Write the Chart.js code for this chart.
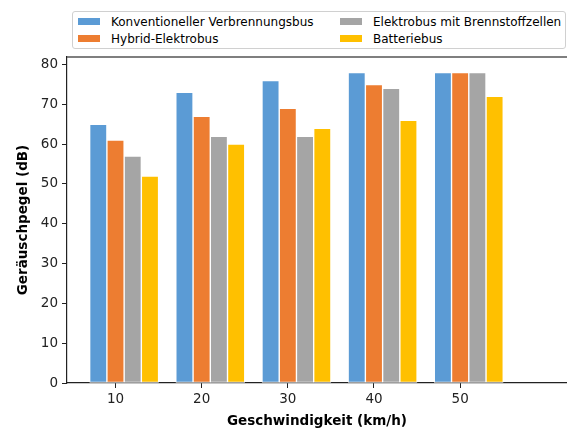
<!DOCTYPE html>
<html>
<head>
<meta charset="utf-8">
<script src="https://cdn.jsdelivr.net/npm/chart.js@4/dist/chart.umd.min.js"></script>
<style>
  body { margin: 0; background: #fff; }
  #wrap { position: relative; width: 567px; height: 430px; overflow: hidden; }
  #legend {
    position: absolute; left: 72px; top: 11px; width: 492px; height: 36px;
    border: 1px solid #d0d0d0; border-radius: 3px; background: #fff;
    font: 12px "DejaVu Sans", sans-serif; color: #000;
  }
  .item { position: absolute; height: 14px; line-height: 14px; white-space: nowrap; }
  .sw { position: absolute; left: 0; top: 3px; width: 22px; height: 7px; }
  .lbl { position: absolute; left: 33px; top: 0; }
</style>
</head>
<body>
<div id="wrap">
  <canvas id="c" width="567" height="430"></canvas>
  <div id="legend"></div>
</div>
<script>
const speeds = [10, 20, 30, 40, 50];
const seriesNames = ['Konventioneller Verbrennungsbus', 'Hybrid-Elektrobus', 'Elektrobus mit Brennstoffzellen', 'Batteriebus'];
const konventionell = [65, 73, 76, 78, 78];
const hybrid = [61, 67, 69, 75, 78];
const brennstoffzelle = [57, 62, 62, 74, 78];
const batterie = [52, 60, 64, 66, 72];
const yTicks = [0, 10, 20, 30, 40, 50, 60, 70, 80];

const colors = ['#5B9BD5', '#ED7D31', '#A5A5A5', '#FFC000'];
const allValues = [konventionell, hybrid, brennstoffzelle, batterie];
const offsets = [-2, 0, 2, 4];

const datasets = allValues.map((vals, i) => ({
  label: seriesNames[i],
  data: speeds.map((s, j) => ({ x: s + offsets[i], y: vals[j] })),
  backgroundColor: colors[i],
  borderColor: '#ffffff',
  borderWidth: 1,
  borderSkipped: false,
  barThickness: 17.2,
  grouped: false
}));

const frame = {
  id: 'frame',
  afterDraw(chart) {
    const { ctx, chartArea: a } = chart;
    ctx.save();
    ctx.strokeStyle = '#555';
    ctx.lineWidth = 1.5;
    ctx.beginPath();
    ctx.moveTo(a.left, a.top);
    ctx.lineTo(a.right, a.top);
    ctx.stroke();
    ctx.restore();
  }
};

const tickFont = { family: 'DejaVu Sans', size: 13.5 };
const titleFont = { family: 'DejaVu Sans', size: 13.5, weight: 'bold' };

new Chart(document.getElementById('c'), {
  type: 'bar',
  data: { datasets },
  plugins: [frame],
  options: {
    responsive: false,
    animation: false,
    devicePixelRatio: 1,
    layout: { padding: { top: 57, right: 0, left: 0, bottom: 0 } },
    plugins: { legend: { display: false }, tooltip: { enabled: false } },
    scales: {
      x: {
        type: 'linear',
        min: 4.37,
        max: 62.4,
        offset: false,
        afterBuildTicks(s) { s.ticks = speeds.map(v => ({ value: v })); },
        afterFit(s) { s.height = 47; },
        grid: { offset: false, drawOnChartArea: false, drawTicks: true, tickLength: 5, color: '#222', tickWidth: 1 },
        border: { color: '#222', width: 1.2 },
        ticks: { color: '#222', font: tickFont, padding: 3, maxRotation: 0 },
        title: { display: true, text: 'Geschwindigkeit (km/h)', color: '#000', font: titleFont, padding: { top: 1, bottom: 0 } }
      },
      y: {
        min: 0,
        max: 81.9,
        afterBuildTicks(s) { s.ticks = yTicks.map(v => ({ value: v })); },
        afterFit(s) { s.width = 67; },
        grid: { offset: false, drawOnChartArea: false, drawTicks: true, tickLength: 5, color: '#222', tickWidth: 1 },
        border: { color: '#222', width: 1.2 },
        ticks: { color: '#222', font: tickFont, padding: 4 },
        title: { display: true, text: 'Geräuschpegel (dB)', color: '#000', font: titleFont, padding: { top: 15, bottom: 2 } }
      }
    }
  }
});

// legend, two columns, column-major like the reference
const legend = document.getElementById('legend');
const colX = [5, 267];
const rowY = [3, 20];
seriesNames.forEach((name, i) => {
  const item = document.createElement('div');
  item.className = 'item';
  item.style.left = colX[Math.floor(i / 2)] + 'px';
  item.style.top = rowY[i % 2] + 'px';
  item.innerHTML = '<span class="sw" style="background:' + colors[i] + '"></span><span class="lbl"></span>';
  item.querySelector('.lbl').textContent = name;
  legend.appendChild(item);
});
</script>
</body>
</html>
